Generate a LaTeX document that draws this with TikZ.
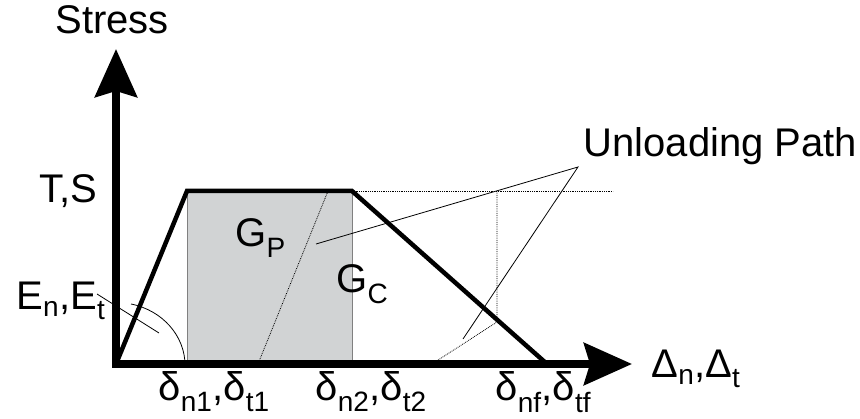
\documentclass[tikz,border=0pt]{standalone}
\usepackage{fontspec}
\setmainfont{Liberation Sans}
\usetikzlibrary{arrows.meta,positioning}
\definecolor{areagray}{HTML}{D1D3D4}

\begin{document}
\begin{tikzpicture}[x=1pt, y=1pt, font=\fontsize{40}{48}\selectfont,
  axis/.style={line width=7.5pt, line join=miter,
    {Stealth[length=48pt,width=42pt,inset=6pt]}-{Stealth[length=48pt,width=42pt,inset=6pt]}},
  law/.style={line width=4.5pt, line join=miter},
  guide/.style={densely dotted, line width=0.8pt},
  lead/.style={line width=0.8pt}]
  \useasboundingbox (0,0) rectangle (860,418);
  % corners of the traction law
  \coordinate (O) at (116,54);
  \coordinate (A) at (187,227);
  \coordinate (B) at (352,227);
  \coordinate (C) at (547,54);
  \coordinate (ytip) at (116,369);
  \coordinate (xtip) at (632,54);
  % plastic and softening areas
  \fill[areagray] (A |- O) rectangle (B);
  \draw[gray, line width=0.8pt] (A |- O) -- (A) (B) -- (B |- O);
  \draw[guide] (258,54) coordinate (u1) -- (328,227) coordinate (u2);
  \draw[guide] (B) -- (613,227) coordinate (g1);
  \draw[guide] (432,54) coordinate (v1) -- (497,96) coordinate (v2) -- (497,227);
  \draw[axis] (ytip) -- (O) -- (xtip);
  \draw[law] (O) -- (A) -- (B) -- (C);
  \draw[lead] (131,114) arc[start angle=77.5, end angle=0, x radius=69, y radius=63];
  % labels
  \node (stress) at (112,398) {Stress};
  \node[anchor=base east] (ts) at (101,215) {T,S};
  \node[anchor=base west] (en) at (13,108) {E\textsubscript{n},E\textsubscript{t}};
  \node[anchor=base west] (gp) at (232,171) {G\textsubscript{P}};
  \node[anchor=base west] (gc) at (333,125) {G\textsubscript{C}};
  \node[anchor=base west] (d1) at (155,17) {δ\textsubscript{n1},δ\textsubscript{t1}};
  \node[anchor=base west] (d2) at (312,17) {δ\textsubscript{n2},δ\textsubscript{t2}};
  \node[anchor=base west] (df) at (492,17) {δ\textsubscript{nf},δ\textsubscript{tf}};
  \node[anchor=base west] (dd) at (648,40) {Δ\textsubscript{n},Δ\textsubscript{t}};
  \node[anchor=base west] (up) at (580,261) {Unloading Path};
  % leaders
  \coordinate (apex) at (578,251);
  \draw[lead] (97,124) -- (159,85);
  \draw[lead] (316,174) -- (apex) -- (463,79);
\end{tikzpicture}
\end{document}
